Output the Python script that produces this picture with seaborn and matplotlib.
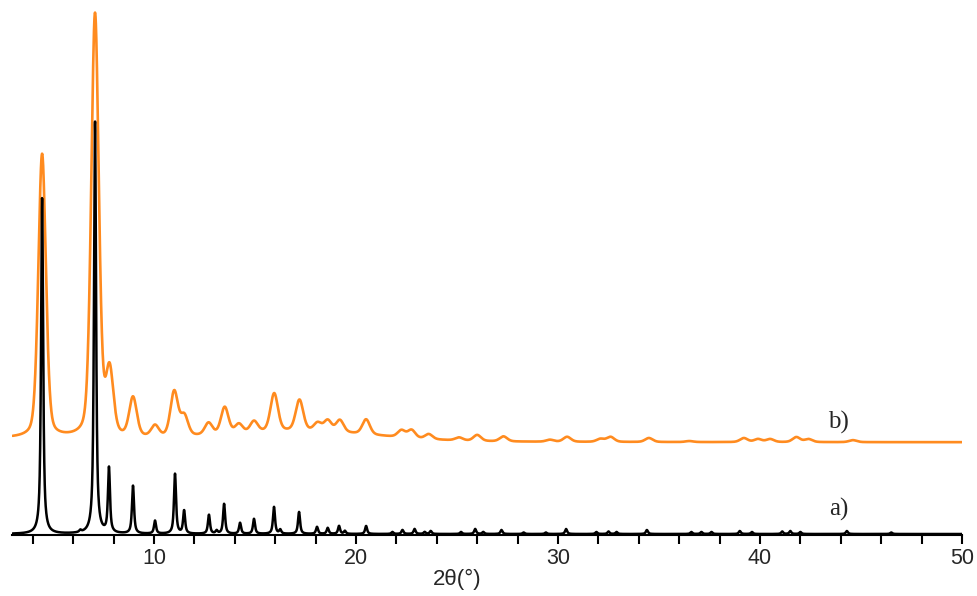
import numpy as np
import pandas as pd
import matplotlib
matplotlib.use("Agg")
import matplotlib.pyplot as plt
import seaborn as sns

# a) simulated pattern: peak positions (2theta, deg) and intensities (a.u.)
sim_pos = [4.46, 6.35, 7.08, 7.77, 8.96, 10.05, 11.04, 11.49, 12.72, 13.10,
           13.47, 14.26, 14.95, 15.94, 16.25, 17.18, 18.07, 18.60, 19.16, 19.45,
           20.50, 21.80, 22.30, 22.90, 23.40, 23.70, 25.20, 25.90, 26.30, 27.20,
           28.30, 29.40, 30.40, 31.90, 32.50, 32.90, 34.40, 36.60, 37.10, 37.60,
           39.00, 39.60, 41.10, 41.50, 42.00, 44.30, 46.50]
sim_int = [337, 2, 413, 65, 48, 13, 60, 23, 19, 3,
           30, 11, 15, 27, 4, 22, 7, 6, 8, 3,
           8, 2, 4, 5, 2, 3, 2, 5, 2, 4,
           1.5, 1.5, 5, 2, 2.5, 2, 4, 2, 2, 2,
           3, 2, 2.5, 3, 2, 3, 1.5]

# b) experimental pattern: peak positions and intensities above background
exp_pos = [4.46, 7.08, 7.80, 8.96, 10.05, 11.00, 11.50, 12.70, 13.50, 14.20,
           14.95, 15.95, 17.20, 18.10, 18.60, 19.20, 20.50, 22.25, 22.75, 23.60,
           25.10, 26.00, 27.30, 29.60, 30.45, 32.10, 32.60, 34.50, 36.50, 39.20,
           39.90, 40.50, 41.80, 42.40, 44.60]
exp_int = [284, 424, 64, 39, 11, 45, 20, 12, 27, 9,
           11, 38, 31, 8, 11, 12, 15, 7, 8, 5,
           3, 6, 5, 2, 5, 3, 5, 4, 1, 4,
           3, 3, 5, 3, 2]
# background of b): level plus two broad humps (offset above a)
bg_level = 92
bg_hump_pos = [3.0, 17.5]
bg_hump_amp = [4, 9]
bg_hump_sig = [12.0, 3.5]

tick_values = [10, 20, 30, 40, 50]

two_theta = np.linspace(3, 50, 6000)


def lorentz(x, x0, w):
    return 1.0 / (1.0 + (2 * (x - x0) / w) ** 2)


def gauss(x, x0, w):
    return np.exp(-4 * np.log(2) * ((x - x0) / w) ** 2)


sim = np.zeros_like(two_theta)
for p, h in zip(sim_pos, sim_int):
    sim += h * (0.8 * lorentz(two_theta, p, 0.12) + 0.2 * gauss(two_theta, p, 0.12))

exp = np.full_like(two_theta, bg_level, dtype=float)
for p, h, s in zip(bg_hump_pos, bg_hump_amp, bg_hump_sig):
    exp += h * np.exp(-0.5 * ((two_theta - p) / s) ** 2)
for p, h in zip(exp_pos, exp_int):
    exp += h * (0.3 * lorentz(two_theta, p, 0.44) + 0.7 * gauss(two_theta, p, 0.44))

df = pd.DataFrame({"two_theta": two_theta, "sim": sim, "exp": exp})

sns.set_style("white")
plt.rcParams["font.family"] = ["Liberation Sans", "DejaVu Sans"]

fig = plt.figure(figsize=(9.78, 5.96), dpi=100)
ax = fig.add_axes([11.6 / 978, 61 / 596, (962 - 11.6) / 978, 535 / 596])

sns.lineplot(data=df, x="two_theta", y="exp", color="#ff8b1f", lw=1.9, ax=ax)
sns.lineplot(data=df, x="two_theta", y="sim", color="black", lw=1.8, ax=ax)

serif = ["Liberation Serif", "DejaVu Serif"]
ax.text(43.9, 25, "a)", fontsize=18, family=serif, ha="center", va="center")
ax.text(43.9, 112, "b)", fontsize=18, family=serif, ha="center", va="center")

ax.set_xlim(2.95, 50)
ax.set_ylim(-1, 535)
ax.set_xticks(tick_values)
ax.set_xticks(np.arange(4, 50, 2), minor=True)
ax.set_yticks([])
ax.set_ylabel("")
ax.tick_params(axis="x", which="both", direction="out", length=6.5, width=1.5,
               color="black", bottom=True, labelsize=15.5, pad=2.5)
for s in ["top", "left", "right"]:
    ax.spines[s].set_visible(False)
ax.spines["bottom"].set_linewidth(1.5)
ax.spines["bottom"].set_color("black")

ax.set_xlabel("2θ(°)", fontsize=16)
ax.xaxis.set_label_coords(0.469, -0.064)

fig.savefig("out.png", dpi=100)
